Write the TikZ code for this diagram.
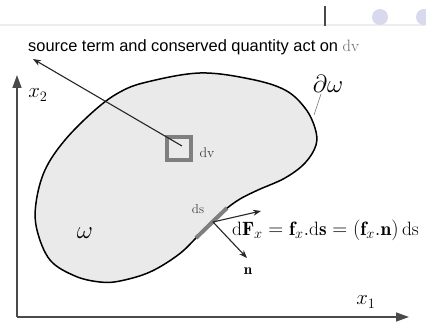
\documentclass[tikz,border=0pt]{standalone}
\usepackage{fontspec}
\newfontfamily\arialfont{Liberation Sans}
\usetikzlibrary{arrows.meta}
\definecolor{blobfill}{HTML}{EAEAEA}
\definecolor{boxgray}{HTML}{7F7F7F}
\definecolor{axisgray}{HTML}{4A4A4A}
\definecolor{dotcol}{HTML}{D9D9EE}
\tikzset{
  axis/.style={draw=axisgray, line width=1.4pt, -{Triangle[length=13pt,width=9pt]}},
  vec/.style={draw=black!85, line width=1.1pt, -{Stealth[length=8pt,width=6pt]}},
  lbl/.style={inner sep=0pt},
}
\begin{document}
\begin{tikzpicture}[x=1pt,y=-1pt]
\useasboundingbox (0,0) rectangle (426,328);
\fill[white] (0,0) rectangle (426,328);
% slide decorations
\draw[black!7, line width=1.5pt] (0,25) -- (426,25);
\draw[axisgray, line width=1.3pt] (325,6) -- (325,26);
\fill[dotcol] (380,17) circle (8);
\fill[dotcol] (424,17) circle (8);
% domain
\draw[fill=blobfill, line width=1.5pt] plot[smooth cycle, tension=0.6] coordinates {
 (147,82) (200,73) (250,79) (285,90) (305,108) (315,128) (316,145) (305,163)
 (285,178) (258,190) (240,199) (226,209) (211,222) (196,238) (178,255) (150,272) (120,281) (100,282)
 (75,276) (50,260) (37,230) (36,203) (45,170) (65,140) (95,110) (120,92)};
% axes
\coordinate (O) at (17,317);
\coordinate (X2) at (17,75);
\coordinate (X1) at (409,317);
\draw[axis] (O) -- (X2);
\draw[axis] (O) -- (X1);
\node[lbl] (x2) at (38,95) {\fontsize{20}{20}\selectfont$x_2$};
\node[lbl] (x1) at (366,302) {\fontsize{20}{20}\selectfont$x_1$};
% labels
\node[lbl] (om) at (85,233) {\fontsize{28}{28}\selectfont$\omega$};
\node[lbl] (dom) at (328,84) {\fontsize{27}{27}\selectfont$\partial\omega$};
\coordinate (lA) at (321,94);
\coordinate (lB) at (314,115);
\draw[black!55, line width=0.6pt] (lA) -- (lB);
% volume element
\coordinate (C) at (182,146);
\coordinate (T) at (33,59);
\draw[fill=blobfill, draw=boxgray, line width=3.2pt] (167,137) rectangle (191,160);
\draw[vec] (C) -- (T);
\node[lbl, text=black!75] (dv) at (207,153) {\fontsize{14}{14}\selectfont$\mathrm{dv}$};
\node[lbl, anchor=west] (top) at (28,47) {\arialfont\fontsize{16.4}{16}\selectfont source term and conserved quantity act on {\color{black!60}$\mathrm{dv}$}};
% surface element
\coordinate (S1) at (196,238);
\coordinate (S2) at (227,208);
\draw[boxgray, line width=4pt] (S1) -- (S2);
\coordinate (P) at (213,222);
\coordinate (F) at (261,211);
\coordinate (N) at (247,258);
\draw[vec] (P) -- (F);
\draw[vec] (P) -- (N);
\node[lbl, text=black!75] (ds) at (198,209) {\fontsize{13}{13}\selectfont$\mathrm{ds}$};
\node[lbl] (n) at (248,271) {\fontsize{15}{15}\selectfont$\mathbf{n}$};
\node[lbl, anchor=west] (eq) at (232,230) {\fontsize{19.3}{19.3}\selectfont$\mathrm{d}\mathbf{F}_x=\mathbf{f}_x.\mathrm{d}\mathbf{s}=(\mathbf{f}_x.\mathbf{n})\,\mathrm{ds}$};
\end{tikzpicture}
\end{document}
